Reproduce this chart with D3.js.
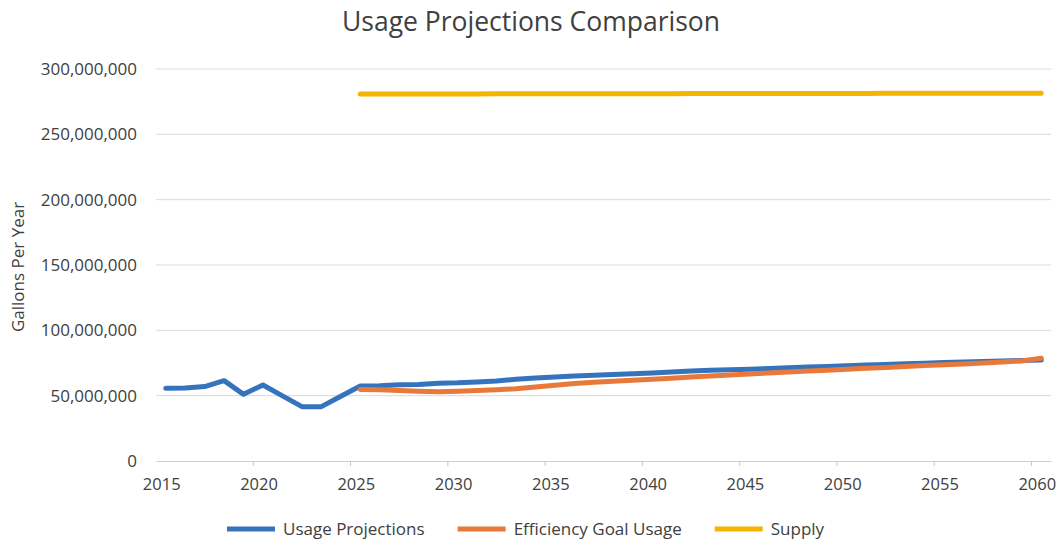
<!DOCTYPE html>
<html>
<head>
<meta charset="utf-8">
<script src="https://cdn.jsdelivr.net/npm/d3@7"></script>
<style>
  html, body { margin: 0; padding: 0; background: #ffffff; }
  svg { display: block; font-family: "Open Sans", "DejaVu Sans", sans-serif; }
</style>
</head>
<body>
<svg id="chart" width="1058" height="540"></svg>
<script>
// Years on the category axis
const years = d3.range(2015, 2061);

// Usage Projections, gallons per year (millions), 2015–2060
const usageYears = d3.range(2015, 2061);
const usageValues = [
  55.6, 55.8, 57.0, 61.5, 51.0, 58.2, 49.8, 41.6, 41.6, 49.5,
  57.4, 57.6, 58.3, 58.6, 59.5, 59.8, 60.5, 61.2, 62.5, 63.6,
  64.2, 65.0, 65.6, 66.2, 66.8, 67.4, 68.2, 68.9, 69.4, 69.9,
  70.3, 70.8, 71.4, 72.0, 72.4, 72.9, 73.4, 73.8, 74.4, 74.9,
  75.3, 75.7, 76.1, 76.5, 76.9, 77.2
];

// Efficiency Goal Usage, gallons per year (millions), 2025–2060
const efficiencyYears = d3.range(2025, 2061);
const efficiencyValues = [
  54.8, 54.5, 54.0, 53.4, 53.0, 53.4, 53.9, 54.5, 55.3, 56.6,
  57.9, 59.3, 60.2, 61.0, 61.8, 62.6, 63.4, 64.2, 65.0, 65.8,
  66.6, 67.4, 68.2, 68.9, 69.5, 70.2, 70.9, 71.6, 72.3, 73.0,
  73.6, 74.3, 75.0, 75.8, 76.6, 78.6
];

// Supply, gallons per year (millions), 2025–2060
const supplyYears = d3.range(2025, 2061);
const supplyValues = [
  280.8, 280.8, 280.8, 280.9, 280.9, 280.9, 280.9, 281.0, 281.0, 281.0,
  281.0, 281.0, 281.1, 281.1, 281.1, 281.1, 281.1, 281.2, 281.2, 281.2,
  281.2, 281.2, 281.3, 281.3, 281.3, 281.3, 281.3, 281.4, 281.4, 281.4,
  281.4, 281.4, 281.5, 281.5, 281.5, 281.5
];

// Axis ticks
const yTicks = [0, 50e6, 100e6, 150e6, 200e6, 250e6, 300e6];
const xLabelYears = [2015, 2020, 2025, 2030, 2035, 2040, 2045, 2050, 2055, 2060];

const seriesNames = ["Usage Projections", "Efficiency Goal Usage", "Supply"];
const seriesColors = ["#3574bd", "#e8793a", "#f4b400"];

const svg = d3.select("#chart");
const plot = { left: 156, right: 1051, top: 69, bottom: 461 };

const x = d3.scaleBand().domain(years).range([plot.left, plot.right]).paddingInner(0).paddingOuter(0);
const xc = yr => x(yr) + x.bandwidth() / 2;
const y = d3.scaleLinear().domain([0, 300e6]).range([plot.bottom, plot.top]);

// Title
svg.append("text")
  .attr("x", 531).attr("y", 31)
  .attr("text-anchor", "middle")
  .attr("font-size", 26.5)
  .attr("fill", "#404040")
  .text("Usage Projections Comparison");

// Horizontal gridlines
svg.append("g")
  .selectAll("line")
  .data(yTicks.filter(d => d > 0))
  .join("line")
  .attr("x1", plot.left).attr("x2", plot.right)
  .attr("y1", d => y(d)).attr("y2", d => y(d))
  .attr("stroke", "#dadada").attr("stroke-width", 1);

// Y axis labels
const yAxis = svg.append("g")
  .attr("transform", `translate(${plot.left},0)`)
  .call(d3.axisLeft(y).tickValues(yTicks).tickSize(0).tickPadding(19).tickFormat(d3.format(",")));
yAxis.select(".domain").remove();
yAxis.selectAll("text")
  .attr("font-family", "'Open Sans', sans-serif")
  .attr("font-size", 17)
  .attr("fill", "#404040");

// Y axis title
svg.append("text")
  .attr("transform", "translate(24,267) rotate(-90)")
  .attr("text-anchor", "middle")
  .attr("font-size", 17)
  .attr("fill", "#404040")
  .text("Gallons Per Year");

// X axis line and labels
const xAxis = svg.append("g")
  .attr("transform", `translate(0,${plot.bottom})`)
  .call(d3.axisBottom(x).tickValues(xLabelYears).tickSize(0).tickPadding(17));
xAxis.select(".domain").attr("stroke", "#d0d0d0");
xAxis.selectAll("text")
  .attr("font-family", "'Open Sans', sans-serif")
  .attr("font-size", 16.5)
  .attr("dx", -4)
  .attr("fill", "#404040");

// Tick marks at category boundaries every five years
svg.append("g")
  .selectAll("line")
  .data(xLabelYears.filter(d => d > 2015))
  .join("line")
  .attr("x1", d => x(d)).attr("x2", d => x(d))
  .attr("y1", plot.bottom).attr("y2", plot.bottom + 5)
  .attr("stroke", "#c8c8c8").attr("stroke-width", 1);

// Series lines
const line = d3.line()
  .x(d => xc(d[0]))
  .y(d => y(d[1] * 1e6));

const series = [
  d3.zip(usageYears, usageValues),
  d3.zip(efficiencyYears, efficiencyValues),
  d3.zip(supplyYears, supplyValues)
];

svg.append("g")
  .selectAll("path")
  .data(series)
  .join("path")
  .attr("d", line)
  .attr("fill", "none")
  .attr("stroke", (d, i) => seriesColors[i])
  .attr("stroke-width", 5)
  .attr("stroke-linejoin", "round")
  .attr("stroke-linecap", "round");

// Legend
const legend = svg.append("g").attr("transform", "translate(227,529)");
let lx = 0;
seriesNames.forEach((name, i) => {
  legend.append("line")
    .attr("x1", lx).attr("x2", lx + 48)
    .attr("y1", 0).attr("y2", 0)
    .attr("stroke", seriesColors[i])
    .attr("stroke-width", 5);
  const t = legend.append("text")
    .attr("x", lx + 56).attr("y", 6)
    .attr("font-size", 17)
    .attr("fill", "#404040")
    .text(name);
  lx += 56 + t.node().getComputedTextLength() + 33;
});
</script>
</body>
</html>
